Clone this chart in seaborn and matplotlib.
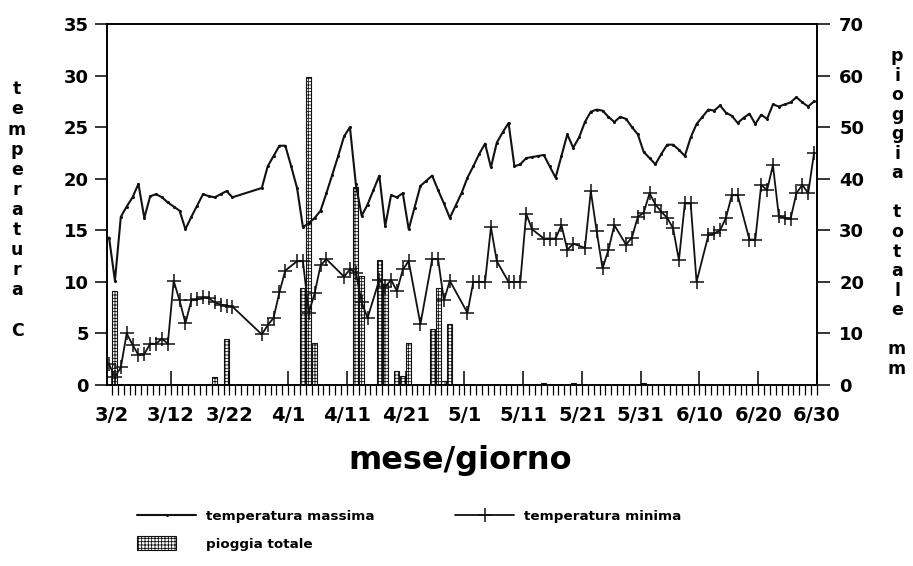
import numpy as np
import matplotlib
matplotlib.use("Agg")
import matplotlib.pyplot as plt
import matplotlib.patches as mpatches
from matplotlib.lines import Line2D
from matplotlib.legend_handler import HandlerPatch
from matplotlib.ticker import FixedLocator
import seaborn as sns

# ---------------- data (day index 0 = first day of record, ~3/1) ----------------
days_max = list(range(0, 22)) + list(range(26, 121))
tmax = [14.3, 10.1, 16.3, 17.3, 18.2, 19.5, 16.2, 18.3, 18.5, 18.2, 17.7, 17.3,
        16.9, 15.1, 16.3, 17.4, 18.5, 18.3, 18.2, 18.5, 18.8, 18.2,
        19.1, 21.2, 22.2, 23.2, 23.2, 21.2, 19.1, 15.3, 15.7, 16.2, 16.9, 18.6,
        20.4, 22.2, 24.1, 25.0, 19.5, 16.4, 17.5, 18.9, 20.3, 15.4, 18.4, 18.2,
        18.6, 15.1, 17.2, 19.3, 19.8, 20.3, 18.9, 17.6, 16.2, 17.4, 18.6, 20.1,
        21.2, 22.4, 23.4, 21.1, 23.5, 24.5, 25.4, 21.2, 21.4, 22.0, 22.1, 22.2,
        22.3, 21.2, 20.1, 22.2, 24.3, 23.0, 24.0, 25.5, 26.5, 26.7, 26.6, 26.0,
        25.5, 26.0, 25.8, 25.0, 24.3, 22.6, 22.0, 21.4, 22.4, 23.3, 23.3, 22.8,
        22.2, 24.0, 25.3, 26.0, 26.7, 26.6, 27.1, 26.4, 26.1, 25.4, 25.9, 26.3,
        25.3, 26.2, 25.8, 27.2, 27.0, 27.2, 27.4, 27.9, 27.4, 27.0, 27.5]

days_min = [0, 1, 2, 3, 4, 5, 6, 7, 8, 9, 10, 11, 12, 13, 14, 15, 16, 17, 18, 19,
            20, 21, 26, 27, 28, 29, 30, 32, 33, 34, 35, 36, 37, 40, 41, 42, 43,
            44, 46, 47, 48, 49, 50, 51, 53, 55, 56, 57, 58, 61, 62, 63, 64, 65,
            66, 68, 69, 70, 71, 72, 74, 75, 76, 77, 78, 79, 81, 82, 83, 84, 85,
            86, 88, 89, 90, 91, 92, 93, 94, 95, 96, 97, 98, 99, 100, 102, 103,
            104, 105, 106, 107, 109, 110, 111, 112, 113, 114, 115, 116, 117,
            118, 119, 120]
tmin = [2.0, 0.8, 1.7, 5.0, 3.9, 2.9, 3.0, 4.0, 4.0, 4.5, 4.0, 10.1, 8.2, 6.0,
        8.2, 8.3, 8.5, 8.4, 8.0, 7.8, 7.7, 7.6, 4.9, 5.8, 6.5, 9.0, 11.1, 12.0,
        12.0, 7.0, 8.9, 11.6, 12.2, 10.5, 11.2, 10.9, 8.0, 6.5, 10.2, 9.5, 10.2,
        9.1, 11.2, 12.0, 5.9, 12.2, 12.2, 8.2, 10.1, 7.0, 10.0, 10.0, 10.0, 15.3,
        12.0, 10.0, 10.0, 10.0, 16.6, 15.1, 14.2, 14.2, 14.2, 15.5, 13.1, 13.7,
        13.3, 18.8, 14.9, 11.3, 13.1, 15.5, 13.6, 14.3, 16.3, 16.7, 18.6, 17.5,
        16.8, 16.2, 15.2, 12.1, 17.6, 17.6, 10.0, 14.5, 14.7, 15.0, 16.2, 18.4,
        18.4, 14.1, 14.1, 19.4, 18.9, 21.3, 16.4, 16.2, 16.1, 18.6, 19.4, 18.6,
        22.5]

rain_days = [1, 18, 20, 33, 34, 35, 42, 43, 46, 47, 49, 50, 51, 55, 56, 57, 58,
             74, 79, 91]
rain_mm = [18.2, 1.6, 9.0, 18.9, 59.8, 8.2, 38.3, 21.2, 24.2, 19.6, 2.8, 1.8,
           8.1, 10.9, 18.9, 0.8, 11.8, 0.3, 0.4, 0.3]

tick_labels = ["3/2", "3/12", "3/22", "4/1", "4/11", "4/21", "5/1", "5/11",
               "5/21", "5/31", "6/10", "6/20", "6/30"]

# ---------------- style ----------------
sns.set_style("ticks")
plt.rcParams["font.family"] = ["DejaVu Sans"]
plt.rcParams["font.weight"] = "bold"
plt.rcParams["text.color"] = "black"
plt.rcParams["axes.labelcolor"] = "black"
plt.rcParams["xtick.color"] = "black"
plt.rcParams["ytick.color"] = "black"
plt.rcParams["hatch.linewidth"] = 0.6
plt.rcParams["hatch.color"] = "#222222"
INK = "#111111"

fig = plt.figure(figsize=(9.13, 5.66), dpi=100)
ax = fig.add_axes([107 / 913, 1 - 385 / 566, 710 / 913, 361 / 566])
ax2 = ax.twinx()

sns.barplot(x=rain_days, y=rain_mm, ax=ax2, native_scale=True, color="white",
            saturation=1, edgecolor=INK, linewidth=0.8, hatch="+++++",
            width=0.85, errorbar=None)

sns.lineplot(x=days_max, y=tmax, ax=ax, color=INK, linewidth=1.5, marker="o",
             markersize=2.2, markeredgewidth=0, markerfacecolor=INK,
             errorbar=None)
sns.lineplot(x=days_min, y=tmin, ax=ax, color=INK, linewidth=1.3, marker="+",
             markersize=9.5, markeredgewidth=1.1, markeredgecolor=INK,
             errorbar=None)

ax.set_zorder(ax2.get_zorder() + 1)
ax.patch.set_visible(False)

ax.set_ylim(0, 35)
ax2.set_ylim(0, 70)
ax.set_yticks(range(0, 36, 5))
ax2.set_yticks(range(0, 71, 10))

major_pos = [0.5 + 10 * i for i in range(len(tick_labels))]
ax.set_xticks(major_pos, tick_labels)
ax.xaxis.set_minor_locator(FixedLocator(np.arange(0.5, 121, 1)))
ax.xaxis.remove_overlapping_locs = False
ax.set_xlim(-0.35, 120.5)

ax.tick_params(axis="y", direction="out", length=9, width=1.1, pad=4,
               labelsize=13, colors="black")
ax2.tick_params(axis="y", direction="out", length=9, width=1.1, pad=7,
                labelsize=13, colors="black")
ax.tick_params(axis="x", which="major", direction="in", length=10, width=1.1,
               pad=15, labelsize=14, colors="black")
ax.tick_params(axis="x", which="minor", direction="out", length=7, width=0.9,
               colors="black")

for a in (ax, ax2):
    a.set_xlabel("")
    a.set_ylabel("")
    for s in a.spines.values():
        s.set_visible(True)
        s.set_linewidth(1.2)
        s.set_color("black")

fig.text(17 / 913, 0.629, "\n".join(list("temperatura") + ["", "C"]),
         ha="center", va="center", fontsize=12.5, linespacing=1.15,
         weight="bold", color="black")
fig.text(897 / 913, 0.6246,
         "\n".join(list("pioggia") + [""] + list("totale") + ["", "m", "m"]),
         ha="center", va="center", fontsize=12.5, linespacing=1.11,
         weight="bold", color="black")
fig.text(460 / 913, 1 - 461 / 566, "mese/giorno", ha="center", va="center",
         fontsize=23, weight="bold", color="black")


def rect_func(legend, orig_handle, xdescent, ydescent, width, height, fontsize):
    return mpatches.Rectangle((-xdescent, -ydescent - 0.25 * height),
                              0.66 * width, 1.5 * height)


h_max = Line2D([], [], color=INK, lw=1.5, marker="o", markersize=2.2,
               markeredgewidth=0, markerfacecolor=INK)
h_min = Line2D([], [], color=INK, lw=1.3, marker="+", markersize=9.5,
               markeredgewidth=1.1, markeredgecolor=INK)
h_rain = mpatches.Patch(facecolor="white", edgecolor=INK, hatch="+++++", lw=0.8)
fig.legend([h_max, h_rain, h_min],
           ["temperatura massima", "pioggia totale", "temperatura minima"],
           ncol=2, loc="upper left", bbox_to_anchor=(137 / 913, 1 - 510 / 566),
           frameon=False, fontsize=9.7, handlelength=4.4, handletextpad=0.7,
           columnspacing=6.0, labelspacing=1.1, borderpad=0, borderaxespad=0,
           handler_map={mpatches.Patch: HandlerPatch(patch_func=rect_func)})

fig.savefig("out.png", dpi=100, facecolor="white")
